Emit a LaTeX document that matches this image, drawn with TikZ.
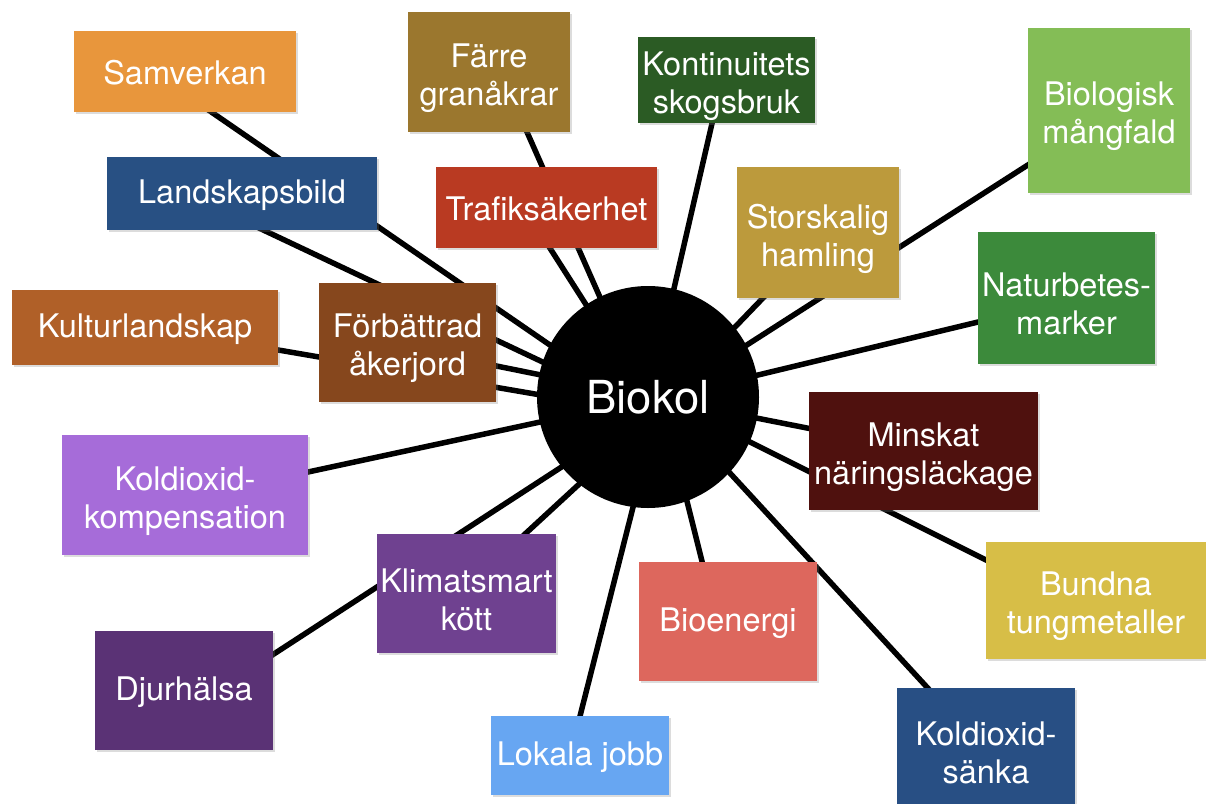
\documentclass[tikz,border=0pt]{standalone}
\usepackage{fontspec}
\setmainfont{TeX Gyre Heros}
\usetikzlibrary{shadows}
\pgfdeclarelayer{background}
\pgfsetlayers{background,main}

% tile colours
\definecolor{cSam}{HTML}{E8963C}
\definecolor{cFarre}{HTML}{9B772E}
\definecolor{cKont}{HTML}{2B5B24}
\definecolor{cBiol}{HTML}{84BD56}
\definecolor{cLand}{HTML}{285083}
\definecolor{cTraf}{HTML}{B93A22}
\definecolor{cStor}{HTML}{BC9A3C}
\definecolor{cNatur}{HTML}{3C8A3B}
\definecolor{cKultur}{HTML}{B06028}
\definecolor{cForb}{HTML}{86471D}
\definecolor{cMinsk}{HTML}{4F110E}
\definecolor{cKomp}{HTML}{A66CD9}
\definecolor{cKlim}{HTML}{6F4190}
\definecolor{cBioen}{HTML}{DD675D}
\definecolor{cBund}{HTML}{D7BE47}
\definecolor{cDjur}{HTML}{5A3275}
\definecolor{cLok}{HTML}{67A6F2}
\definecolor{cSank}{HTML}{284F84}

% \tile{name}{colour}{x}{y}{width}{height}{text shift}{text}
\newcommand{\tile}[8]{%
  \node[tile, fill=#2, minimum width=#5pt, minimum height=#6pt] (#1) at (#3,#4) {};
  \node[caption, yshift=-#7pt] at (#1.center) {#8};}

\begin{document}
\begin{tikzpicture}[x=1pt,y=-1pt,
  tile/.style={rectangle, inner sep=0pt,
    drop shadow={shadow xshift=1.5pt, shadow yshift=-2pt, opacity=0.28}},
  caption/.style={inner sep=0pt, text=white, align=center,
    font=\fontsize{32.5}{38}\selectfont},
  hub/.style={circle, fill=black, inner sep=0pt, minimum size=222pt,
    text=white, font=\fontsize{45.5}{50}\selectfont},
  spoke/.style={line width=5.5pt, black}]

\useasboundingbox (0,0) rectangle (1206,803);
\clip (0,0) rectangle (1206,803);

% central node
\node[hub] (bio) at (648,397) {Biokol};

% surrounding tiles
\tile{sam}{cSam}{185}{71.5}{222}{81}{1.5}{Samverkan}
\tile{farre}{cFarre}{489}{72}{162}{120}{6}{Färre\\granåkrar}
\tile{kont}{cKont}{726.5}{80}{177}{86}{6}{Kontinuitets\\skogsbruk}
\tile{biol}{cBiol}{1109}{110.5}{162}{165}{6}{Biologisk\\mångfald}
\tile{land}{cLand}{242}{193.5}{270}{73}{1.5}{Landskapsbild}
\tile{traf}{cTraf}{546.5}{207.5}{221}{81}{1.5}{Trafiksäkerhet}
\tile{stor}{cStor}{818}{232.5}{162}{131}{6}{Storskalig\\hamling}
\tile{natur}{cNatur}{1066.5}{298}{177}{132}{6}{Naturbetes-\\marker}
\tile{kultur}{cKultur}{145}{327.5}{266}{75}{1.5}{Kulturlandskap}
\tile{forb}{cForb}{407.5}{342.5}{177}{119}{6}{Förbättrad\\åkerjord}
\tile{minsk}{cMinsk}{923.5}{451}{229}{118}{6}{Minskat\\näringsläckage}
\tile{komp}{cKomp}{185}{495}{246}{120}{6}{Koldioxid-\\kompensation}
\tile{klim}{cKlim}{466.5}{593.5}{179}{119}{6}{Klimatsmart\\kött}
\tile{bioen}{cBioen}{728}{621.5}{178}{119}{1.5}{Bioenergi}
\tile{bund}{cBund}{1096}{600.5}{220}{117}{6}{Bundna\\tungmetaller}
\tile{djur}{cDjur}{184}{690.5}{178}{119}{1.5}{Djurhälsa}
\tile{lok}{cLok}{580}{755.5}{178}{79}{1.5}{Lokala jobb}
\tile{sank}{cSank}{986}{746.5}{178}{117}{6}{Koldioxid-\\sänka}

% spokes, drawn behind every tile and the hub
\begin{pgfonlayer}{background}
  \draw[spoke] ([shift={(-32.5,0)}]sam.center)   -- ([shift={(-8,10)}]bio.center);
  \draw[spoke] ([shift={(-56,0)}]land.center)    -- ([shift={(-8,11)}]bio.center);
  \draw[spoke] ([shift={(2,0)}]kultur.center)    -- ([shift={(-8,15)}]bio.center);
  \draw[spoke] ([shift={(0,5.5)}]forb.center)    -- ([shift={(-8,-2)}]bio.center);
  \draw[spoke] ([shift={(0,3.5)}]komp.center)    -- ([shift={(-8,3.5)}]bio.center);
  \draw[spoke] ([shift={(-6,0)}]klim.center)     -- ([shift={(-8,31)}]bio.center);
  \draw[spoke] ([shift={(16,11.5)}]djur.center)  -- ([shift={(-8,19)}]bio.center);
  \draw[spoke] ([shift={(-10,0)}]lok.center)     -- ([shift={(13,0)}]bio.center);
  \draw[spoke] ([shift={(-11,0)}]bioen.center)   -- ([shift={(13,0)}]bio.center);
  \draw[spoke] ([shift={(-4.5,0)}]sank.center)   -- ([shift={(12,0)}]bio.center);
  \draw[spoke] ([shift={(0,14.5)}]bund.center)   -- ([shift={(12,0)}]bio.center);
  \draw[spoke] (minsk.center)                    -- ([shift={(12,2)}]bio.center);
  \draw[spoke] ([shift={(0,2.7)}]natur.center)   -- ([shift={(12,1.6)}]bio.center);
  \draw[spoke] ([shift={(0,2.5)}]biol.center)    -- ([shift={(12,3.6)}]bio.center);
  \draw[spoke] ([shift={(8,0)}]stor.center)      -- ([shift={(12,8)}]bio.center);
  \draw[spoke] ([shift={(-4.5,0)}]kont.center)   -- ([shift={(1,0)}]bio.center);
  \draw[spoke] ([shift={(-22.5,0)}]traf.center)  -- ([shift={(-3,0)}]bio.center);
  \draw[spoke] ([shift={(11.5,0)}]farre.center)  -- ([shift={(-4,0)}]bio.center);
\end{pgfonlayer}
\end{tikzpicture}
\end{document}
